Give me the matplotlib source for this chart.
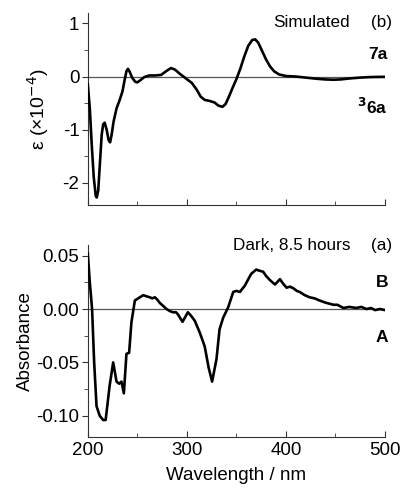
import matplotlib
matplotlib.use("Agg")
import matplotlib.pyplot as plt
from matplotlib.ticker import MultipleLocator, FormatStrFormatter

plt.rcParams["font.family"] = ["Liberation Sans", "DejaVu Sans"]
plt.rcParams["font.size"] = 13.5
plt.rcParams["axes.unicode_minus"] = False

# simulated spectrum (top panel)
sim_wl = [200, 202, 204, 206, 208, 209, 210.5, 212, 214, 215.5, 217, 219, 221, 222.5,
          224, 226, 229, 232, 235, 237, 239, 240.5, 242, 245, 248, 250, 253, 257,
          262, 268, 274, 279, 284, 288, 293, 300, 305, 310, 314, 318, 323, 328,
          332, 336, 339, 342, 346, 350, 354, 358, 362, 366, 369, 372, 376, 380,
          384, 388, 393, 400, 410, 420, 430, 440, 448, 455, 465, 475, 485, 500]
sim_eps = [-0.15, -0.6, -1.3, -1.9, -2.25, -2.28, -2.15, -1.7, -1.1, -0.9, -0.87, -1.0,
           -1.2, -1.24, -1.1, -0.85, -0.6, -0.45, -0.28, -0.08, 0.10, 0.145, 0.10,
           -0.03, -0.10, -0.11, -0.07, -0.01, 0.02, 0.02, 0.03, 0.10, 0.16, 0.13,
           0.05, -0.05, -0.12, -0.25, -0.38, -0.44, -0.46, -0.49, -0.55, -0.57,
           -0.52, -0.40, -0.22, -0.05, 0.15, 0.38, 0.58, 0.69, 0.70, 0.64, 0.48,
           0.32, 0.19, 0.10, 0.04, 0.01, 0.0, -0.02, -0.04, -0.055, -0.06, -0.055,
           -0.035, -0.02, -0.01, -0.005]

# measured difference spectrum (bottom panel)
abs_wl = [200, 202, 204.3, 206.4, 208.8, 212, 215.5, 218, 222, 225.6, 229, 231.6, 234,
          236.4, 239, 241.7, 244, 247.5, 252.5, 256, 259, 262.6, 265, 267.7, 270,
          272.7, 276, 279.5, 283, 286, 289, 291, 295.6, 298, 301, 304, 308, 313,
          318, 322, 325.5, 329.9, 333, 336.7, 341.7, 346.8, 350, 353.5, 358.6, 362,
          365, 370, 373, 377, 380, 384, 389, 394, 397, 400.7, 404, 407.5, 411, 414,
          419, 424, 429, 434, 440, 448, 452, 458, 464, 471, 476, 481.5, 486, 490,
          495, 500]
abs_val = [0.052, 0.025, 0.0, -0.05, -0.091, -0.100, -0.104, -0.104, -0.072, -0.050,
           -0.068, -0.070, -0.068, -0.079, -0.042, -0.041, -0.0126, 0.008, 0.011,
           0.013, 0.012, 0.011, 0.010, 0.011, 0.009, 0.0057, 0.003, 0.0, -0.002,
           -0.003, -0.003, -0.005, -0.012, -0.008, -0.003, -0.006, -0.011, -0.022,
           -0.035, -0.055, -0.068, -0.047, -0.019, -0.008, 0.0016, 0.016, 0.017,
           0.016, 0.022, 0.028, 0.033, 0.037, 0.036, 0.035, 0.031, 0.027, 0.023,
           0.028, 0.024, 0.020, 0.021, 0.0195, 0.017, 0.016, 0.013, 0.011, 0.010,
           0.008, 0.006, 0.004, 0.004, 0.001, 0.002, 0.001, 0.002, 0.0, 0.001,
           -0.001, 0.0, -0.001]

fig = plt.figure(figsize=(4.01, 4.95), dpi=100)
ax1 = fig.add_axes([0.219, 0.586, 0.741, 0.388])
ax2 = fig.add_axes([0.219, 0.117, 0.741, 0.388])

for ax in (ax1, ax2):
    ax.spines["top"].set_visible(False)
    ax.spines["right"].set_visible(False)
    ax.spines["left"].set_color("#333333")
    ax.spines["bottom"].set_color("#333333")
    ax.set_xlim(200, 500)
    ax.xaxis.set_major_locator(MultipleLocator(100))
    ax.xaxis.set_minor_locator(MultipleLocator(50))
    ax.tick_params(axis="x", which="both", direction="in", color="#333333")
    ax.tick_params(axis="y", which="both", direction="out", color="#333333", pad=2)
    ax.tick_params(which="major", length=4)
    ax.tick_params(which="minor", length=3)
    ax.axhline(0, color="#555555", lw=0.9, zorder=1)

ax1.plot(sim_wl, sim_eps, color="black", lw=1.9, zorder=3)
ax1.set_ylim(-2.42, 1.2)
ax1.yaxis.set_major_locator(MultipleLocator(1))
ax1.yaxis.set_minor_locator(MultipleLocator(0.5))
ax1.tick_params(axis="x", labelbottom=False)
ax1.set_ylabel("ε (×10$^{-4}$)", fontsize=14, labelpad=8)
ax1.text(465, 1.02, "Simulated", ha="right", va="center", fontsize=12.3)
ax1.text(507, 1.02, "(b)", ha="right", va="center", fontsize=12.3)
ax1.text(503, 0.42, "7a", ha="right", va="center", fontweight="bold", fontsize=12.5)
ax1.text(503, -0.57, r"$^{\mathbf{3}}$6a", ha="right", va="center",
         fontweight="bold", fontsize=12.5)

ax2.plot(abs_wl, abs_val, color="black", lw=1.9, zorder=3)
ax2.set_ylim(-0.12, 0.06)
ax2.yaxis.set_major_locator(MultipleLocator(0.05))
ax2.yaxis.set_minor_locator(MultipleLocator(0.025))
ax2.yaxis.set_major_formatter(FormatStrFormatter("%.2f"))
ax2.set_ylabel("Absorbance", labelpad=2)
ax2.set_xlabel("Wavelength / nm", labelpad=6)
ax2.text(465, 0.0595, "Dark, 8.5 hours", ha="right", va="center", fontsize=12.3)
ax2.text(507, 0.0595, "(a)", ha="right", va="center", fontsize=12.3)
ax2.text(503, 0.025, "B", ha="right", va="center", fontweight="bold", fontsize=12.5)
ax2.text(503, -0.027, "A", ha="right", va="center", fontweight="bold", fontsize=12.5)

fig.savefig("out.png", dpi=100)
